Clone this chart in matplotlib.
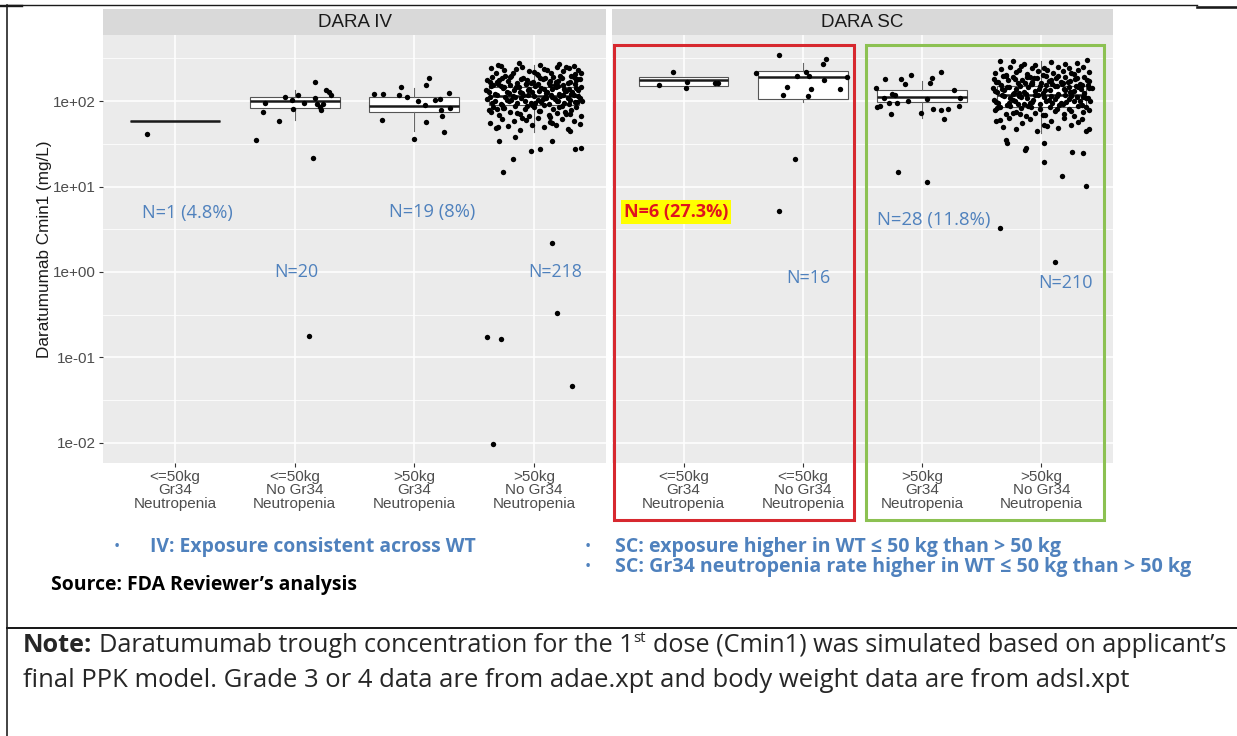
import matplotlib
matplotlib.use("Agg")
import matplotlib.pyplot as plt
from matplotlib.lines import Line2D
from matplotlib.patches import Rectangle
from matplotlib.ticker import FixedLocator, NullFormatter

W, H = 1237, 736

# ---------------- data ----------------
panels = ["DARA IV", "DARA SC"]
groups = ["<=50kg\nGr34\nNeutropenia", "<=50kg\nNo Gr34\nNeutropenia",
          ">50kg\nGr34\nNeutropenia", ">50kg\nNo Gr34\nNeutropenia"]
y_ticks = [1e-2, 1e-1, 1e0, 1e1, 1e2]
y_tick_labels = ["1e-02", "1e-01", "1e+00", "1e+01", "1e+02"]

# box statistics (mg/L) per group
iv_q1 = [58, 82, 74, 90]
iv_med = [58, 101, 87, 114]
iv_q3 = [58, 111, 112, 145]
iv_lo = [58, 60, 45, 43]
iv_hi = [58, 135, 141, 264]

sc_q1 = [150, 105, 97, 86]
sc_med = [175, 192, 110, 118]
sc_q3 = [191, 226, 133, 150]
sc_lo = [150, 98, 63, 42]
sc_hi = [191, 276, 171, 295]

# jittered points: horizontal offset from group centre, value
iv1_dx = [-0.23]
iv1_val = [41]
iv2_dx = [0.17, -0.25, -0.26, -0.13, -0.32, -0.02, -0.01, 0.03, 0.17, 0.21,
          0.22, 0.24, 0.26, 0.29, 0.30, 0.15, 0.12, 0.19, -0.08, 0.08]
iv2_val = [167, 95.5, 74, 59, 34.7, 103, 80.5, 117, 109, 85,
           78.5, 92, 133, 127, 117, 21.5, 0.18, 92, 111, 95]
iv3_dx = [-0.27, -0.34, -0.26, -0.13, -0.11, -0.06, 0.00, 0.03, 0.09, 0.10,
          0.12, 0.10, 0.17, 0.22, 0.23, 0.25, 0.29, 0.30, 0.21]
iv3_val = [60, 120, 120, 118, 144.5, 112, 35.6, 101, 90, 154,
           187, 57, 103, 78.5, 67, 43.4, 123, 82, 105]
iv4_dx = ([-0.13, 0.05, 0.21, -0.30, 0.33]
          + [-0.36, -0.32, -0.25, -0.18, -0.10, -0.04, 0.02, 0.08, 0.14, 0.19,
             0.24, 0.29, 0.34, 0.37, -0.28, -0.15, 0.00, 0.11, 0.27, 0.39]
          + [-0.39, -0.35, -0.31, -0.27, -0.22, -0.19, -0.14, -0.09, -0.06, -0.01,
             0.03, 0.07, 0.12, 0.16, 0.20, 0.23, 0.28, 0.31, 0.35, 0.38,
             -0.37, -0.29, -0.20, -0.11, -0.03, 0.05, 0.13, 0.22, 0.30, 0.36,
             -0.24, -0.07, 0.09, 0.18, 0.33]
          + [-0.40, -0.36, -0.33, -0.30, -0.26, -0.23, -0.20, -0.17, -0.13, -0.10,
             -0.07, -0.04, -0.02, 0.01, 0.04, 0.06, 0.10, 0.13, 0.15, 0.18,
             0.21, 0.24, 0.26, 0.29, 0.32, 0.34, 0.37, 0.39, -0.38, -0.28,
             -0.21, -0.15, -0.05, 0.03, 0.11, 0.20, 0.27, 0.35, -0.34, -0.12,
             0.08, 0.17, 0.31, -0.25, 0.25]
          + [-0.39, -0.35, -0.31, -0.28, -0.24, -0.21, -0.18, -0.14, -0.11, -0.08,
             -0.05, -0.02, 0.00, 0.03, 0.06, 0.09, 0.12, 0.14, 0.17, 0.20,
             0.22, 0.25, 0.28, 0.30, 0.33, 0.36, 0.38, -0.37, -0.27, -0.19,
             -0.09, 0.01, 0.10, 0.19, 0.29, 0.37, -0.33, -0.16, -0.03, 0.07,
             0.24, 0.34, -0.23, 0.15, 0.40]
          + [-0.38, -0.34, -0.29, -0.25, -0.20, -0.16, -0.12, -0.08, -0.04, 0.00,
             0.04, 0.08, 0.12, 0.16, 0.19, 0.23, 0.27, 0.31, 0.35, 0.39,
             -0.36, -0.26, -0.14, -0.06, 0.05, 0.13, 0.21, 0.30, -0.31, 0.26]
          + [-0.37, -0.32, -0.27, -0.22, -0.17, -0.12, -0.07, -0.02, 0.03, 0.08,
             0.13, 0.18, 0.23, 0.28, 0.33, 0.38, -0.30, -0.10, 0.15, 0.30]
          + [0.15, -0.26, -0.18, -0.29, -0.16, -0.03, 0.05, 0.15, 0.34, 0.39,
             -0.39, -0.28, -0.34, 0.19, 0.32])
iv4_val = ([281, 265, 270, 262, 258]
           + [245, 215, 232, 210, 250, 225, 205, 238, 212, 248,
              222, 240, 206, 230, 255, 236, 218, 228, 252, 214]
           + [178, 192, 165, 185, 170, 196, 162, 188, 175, 168,
              199, 182, 164, 190, 172, 186, 161, 195, 176, 183,
              168, 174, 190, 180, 163, 187, 171, 194, 166, 179,
              198, 160, 184, 169, 191]
           + [135, 148, 122, 156, 141, 128, 152, 133, 145, 124,
              158, 138, 127, 150, 131, 143, 125, 155, 137, 147,
              121, 153, 130, 140, 126, 157, 134, 146, 129, 151,
              123, 144, 136, 159, 128, 149, 132, 142, 155, 126,
              139, 152, 121, 147, 137]
           + [105, 96, 117, 92, 110, 101, 115, 94, 108, 99,
              119, 91, 113, 103, 97, 111, 93, 118, 106, 100,
              114, 95, 109, 102, 116, 98, 107, 112, 90, 104,
              117, 96, 108, 101, 93, 115, 99, 110, 94, 106,
              118, 97, 103, 112, 100]
           + [78, 86, 69, 82, 74, 88, 71, 80, 66, 84,
              76, 89, 68, 81, 73, 87, 70, 79, 85, 67,
              75, 83, 72, 88, 77, 65, 84, 71, 80, 74]
           + [55, 48, 62, 51, 58, 46, 60, 53, 64, 49,
              57, 52, 61, 47, 59, 54, 50, 63, 56, 45]
           + [2.17, 14.7, 20.8, 33.8, 37.6, 26.2, 27.7, 33.8, 27.7, 28.4,
              0.172, 0.166, 0.0097, 0.329, 0.0465])

sc1_dx = [-0.09, -0.21, 0.03, 0.02, 0.26, 0.29]
sc1_val = [218, 155, 167, 141, 164, 164]
sc2_dx = [-0.20, 0.19, 0.17, -0.39, 0.03, 0.05, 0.37, -0.13, 0.07, -0.17,
          0.04, -0.07, -0.20, 0.18, -0.05, 0.31]
sc2_val = [345, 310, 268, 214, 220, 198, 189, 144.5, 138, 117.5,
           113.5, 21, 5.2, 176, 196, 140]
sc3_dx = [-0.31, -0.18, -0.09, -0.14, 0.16, 0.08, 0.07, -0.39, 0.27, -0.25,
          -0.32, -0.12, 0.04, -0.21, -0.38, -0.35, -0.28, 0.31, 0.09, 0.16,
          0.22, -0.01, -0.26, 0.18, -0.20, 0.04, -0.23, 0.32]
sc3_val = [179, 182, 203, 158, 220, 187, 162, 143, 134.5, 120,
           107.5, 100, 105, 95.5, 85.8, 87.4, 94, 88, 80, 79,
           81, 71.8, 71, 62, 14.8, 11.3, 117.5, 108]
sc4_dx = ([-0.35, -0.24, -0.15, -0.05, 0.08, 0.20, 0.30, 0.38]
          + [-0.39, -0.34, -0.30, -0.26, -0.21, -0.17, -0.12, -0.08, -0.03, 0.01,
             0.05, 0.10, 0.14, 0.18, 0.23, 0.27, 0.31, 0.35, 0.40, -0.19,
             0.02, 0.25]
          + [-0.40, -0.36, -0.32, -0.28, -0.24, -0.20, -0.16, -0.12, -0.08, -0.04,
             0.00, 0.04, 0.08, 0.12, 0.16, 0.20, 0.24, 0.28, 0.32, 0.36,
             0.40, -0.38, -0.30, -0.22, -0.14, -0.06, 0.06, 0.14, 0.22, 0.30,
             0.38, -0.10, 0.18]
          + [-0.41, -0.37, -0.34, -0.31, -0.27, -0.24, -0.21, -0.18, -0.15, -0.11,
             -0.08, -0.05, -0.02, 0.01, 0.04, 0.07, 0.11, 0.14, 0.17, 0.20,
             0.23, 0.26, 0.29, 0.33, 0.36, 0.39, 0.42, -0.39, -0.29, -0.19,
             -0.09, 0.03, 0.13, 0.24, 0.34, -0.33, -0.13, 0.09, 0.27, 0.40,
             -0.23, -0.01, 0.19, 0.31]
          + [-0.40, -0.36, -0.33, -0.29, -0.26, -0.22, -0.19, -0.15, -0.12, -0.08,
             -0.05, -0.01, 0.02, 0.06, 0.09, 0.13, 0.16, 0.20, 0.23, 0.27,
             0.30, 0.34, 0.37, 0.41, -0.38, -0.31, -0.24, -0.17, -0.10, -0.03,
             0.04, 0.11, 0.18, 0.25, 0.32, 0.39, -0.27, -0.07, 0.08, 0.21,
             0.35, -0.20]
          + [-0.39, -0.35, -0.30, -0.26, -0.21, -0.17, -0.13, -0.09, -0.05, -0.01,
             0.03, 0.07, 0.11, 0.15, 0.19, 0.23, 0.27, 0.31, 0.35, 0.40,
             -0.37, -0.24, -0.11, 0.01, 0.13, 0.25, 0.37, -0.18]
          + [-0.38, -0.32, -0.27, -0.21, -0.16, -0.10, -0.04, 0.02, 0.08, 0.14,
             0.19, 0.25, 0.31, 0.37, -0.35, 0.05, 0.34]
          + [-0.30, -0.29, -0.14, -0.13, 0.02, 0.02, 0.17, 0.26, 0.35, 0.37,
             0.40, 0.11, -0.35])
sc4_val = ([290, 296, 272, 265, 284, 268, 279, 300]
           + [212, 236, 204, 248, 219, 257, 208, 241, 226, 203,
              233, 215, 250, 222, 244, 207, 230, 253, 217, 228,
              246, 211]
           + [183, 167, 196, 174, 189, 161, 178, 192, 169, 185,
              163, 198, 176, 187, 165, 193, 171, 181, 160, 190,
              172, 166, 195, 179, 162, 188, 173, 197, 168, 184,
              177, 191, 164]
           + [142, 128, 155, 133, 147, 121, 138, 151, 126, 144,
              159, 131, 140, 124, 153, 136, 148, 122, 157, 134,
              145, 129, 150, 137, 125, 154, 141, 130, 146, 123,
              158, 135, 149, 127, 152, 139, 120, 156, 132, 143,
              125, 151, 137, 146]
           + [104, 95, 116, 91, 109, 100, 113, 93, 107, 98,
              118, 92, 111, 102, 96, 114, 94, 119, 105, 99,
              112, 90, 108, 101, 97, 115, 103, 110, 94, 117,
              99, 106, 92, 113, 100, 108, 96, 103, 115, 98,
              110, 93]
           + [79, 85, 70, 88, 75, 82, 67, 86, 73, 80,
              69, 84, 77, 89, 71, 81, 66, 87, 74, 78,
              83, 72, 88, 68, 80, 76, 85, 70]
           + [58, 50, 63, 47, 55, 61, 44, 52, 59, 48,
              64, 53, 57, 45, 60, 51, 62]
           + [35, 32, 26.7, 28.4, 19.5, 32, 13.4, 25, 24.8, 10.1,
              46.7, 1.32, 3.3])

iv_points = [(iv1_dx, iv1_val), (iv2_dx, iv2_val), (iv3_dx, iv3_val), (iv4_dx, iv4_val)]
sc_points = [(sc1_dx, sc1_val), (sc2_dx, sc2_val), (sc3_dx, sc3_val), (sc4_dx, sc4_val)]
iv_box = [iv_q1, iv_med, iv_q3, iv_lo, iv_hi]
sc_box = [sc_q1, sc_med, sc_q3, sc_lo, sc_hi]

# annotation text: (label, left px, centre y px, width px)
iv_notes = [("N=1 (4.8%)", 142, 213, 91), ("N=20", 274, 272, 44),
            ("N=19 (8%)", 389, 212, 87), ("N=218", 528, 272, 54)]
sc_notes = [("N=16", 786, 278, 44), ("N=28 (11.8%)", 877, 220, 114),
            ("N=210", 1038, 283, 55)]

# ---------------- drawing ----------------
NARROW = ["Liberation Sans Narrow", "Open Sans", "DejaVu Sans"]
BLUE = "#4F81BD"
plt.rcParams.update({"font.family": ["Liberation Sans", "DejaVu Sans"]})

fig = plt.figure(figsize=(W / 100, H / 100), dpi=100)
fig.patch.set_facecolor("white")
renderer = fig.canvas.get_renderer()


def rect(x0, y0, x1, y1):
    return [x0 / W, 1 - y1 / H, (x1 - x0) / W, (y1 - y0) / H]


def fpos(x, y):
    return x / W, 1 - y / H


def fit(x, y, s, width, size, **kw):
    t = fig.text(*fpos(x, y), s, fontsize=size, va="center", **kw)
    w = t.get_window_extent(renderer).width
    t.set_fontsize(size * width / w)
    return t


def draw_panel(box, title, points, ax_rect, strip_rect, show_y):
    ax = fig.add_axes(rect(*ax_rect))
    ax.set_facecolor("#EBEBEB")
    for sp in ax.spines.values():
        sp.set_visible(False)
    ax.set_yscale("log")
    ax.set_ylim(10 ** -2.234, 10 ** 2.772)
    ax.set_xlim(0.4, 4.6)
    ax.yaxis.set_major_locator(FixedLocator(y_ticks))
    ax.yaxis.set_minor_locator(FixedLocator([10 ** (k + 0.5) for k in range(-3, 3)]))
    ax.yaxis.set_minor_formatter(NullFormatter())
    ax.set_xticks(range(1, 5))
    ax.set_xticklabels(groups, linespacing=0.95)
    ax.grid(True, which="major", color="white", linewidth=1.1)
    ax.grid(True, which="minor", axis="y", color="white", linewidth=0.55)
    ax.set_axisbelow(True)
    ax.tick_params(which="minor", length=0)
    ax.tick_params(which="major", length=3, width=0.8, color="#333333",
                   labelsize=11, labelcolor="#4D4D4D", pad=2)
    if show_y:
        ax.set_yticklabels(y_tick_labels)
    else:
        ax.tick_params(axis="y", left=False, labelleft=False)

    q1, med, q3, lo, hi = box
    stats = [dict(q1=q1[i], med=med[i], q3=q3[i], whislo=lo[i], whishi=hi[i], fliers=[])
             for i in range(4)]
    ax.bxp(stats, positions=[1, 2, 3, 4], widths=0.75, patch_artist=True,
           showfliers=False, showcaps=False, manage_ticks=False,
           boxprops=dict(facecolor="white", edgecolor="#555555", linewidth=0.8),
           medianprops=dict(color="#1A1A1A", linewidth=1.8),
           whiskerprops=dict(color="#666666", linewidth=0.8), zorder=2)
    for i, (dx, val) in enumerate(points):
        ax.scatter([i + 1 + d for d in dx], val, s=15, color="black",
                   linewidths=0, zorder=3)

    st = fig.add_axes(rect(*strip_rect))
    st.set_facecolor("#D9D9D9")
    st.set_xticks([])
    st.set_yticks([])
    for sp in st.spines.values():
        sp.set_visible(False)
    st.text(0.5, 0.48, title, ha="center", va="center", fontsize=13.5, color="#1A1A1A",
            transform=st.transAxes)
    return ax


draw_panel(iv_box, panels[0], iv_points, (103, 35, 606, 463), (103, 9, 606, 35), True)
draw_panel(sc_box, panels[1], sc_points, (612, 35, 1113, 463), (612, 9, 1113, 35), False)

fig.text(*fpos(45, 249), "Daratumumab Cmin1 (mg/L)", rotation=90, ha="center",
         va="center", fontsize=12.3, color="#1A1A1A")

for label, x, y, w in iv_notes + sc_notes:
    fit(x, y, label, w, 16, color=BLUE, family=NARROW)
fit(624, 212, "N=6 (27.3%)", 104, 16, color="#E0141E", family=NARROW,
    fontweight="bold", bbox=dict(facecolor="#FFFF00", edgecolor="none", pad=2.5))

# highlight frames
fig.patches.append(Rectangle(fpos(614, 520), 240 / W, 475 / H, transform=fig.transFigure,
                             fill=False, edgecolor="#D7282F", linewidth=2.2))
fig.patches.append(Rectangle(fpos(866, 520), 238 / W, 475 / H, transform=fig.transFigure,
                             fill=False, edgecolor="#8CC152", linewidth=2.2))

# bullet points and source
for bx, by in [(117, 547), (588, 547), (588, 567)]:
    fig.text(*fpos(bx, by), "\u2022", color=BLUE, fontsize=12, ha="center",
             va="center", family=NARROW)
fit(150, 547, "IV: Exposure consistent across WT", 327, 15, color=BLUE,
    family=NARROW, fontweight="bold")
fit(615, 547, "SC: exposure higher in WT \u2264 50 kg than > 50 kg", 446, 15,
    color=BLUE, family=NARROW, fontweight="bold")
fit(615, 567, "SC: Gr34 neutropenia rate higher in WT \u2264 50 kg than > 50 kg", 576, 15,
    color=BLUE, family=NARROW, fontweight="bold")
fit(51, 585, "Source: FDA Reviewer\u2019s analysis", 308, 14, color="black",
    family=NARROW, fontweight="bold")


# note lines (runs of text so that the superscript fits in)
def text_runs(x, y, parts, size, width):
    arts = []

    def lay(sz):
        for a in arts:
            a.remove()
        arts.clear()
        a = fig.text(0, 0, "x x", fontsize=sz, family=NARROW)
        b = fig.text(0, 0, "xx", fontsize=sz, family=NARROW)
        gap = a.get_window_extent(renderer).width - b.get_window_extent(renderer).width
        a.remove()
        b.remove()
        cx = x
        for s, wt, k, rise, sp in parts:
            t = fig.text(*fpos(cx, y - rise * sz), s, fontsize=sz * k, fontweight=wt,
                         family=NARROW, color="#262626", va="baseline")
            arts.append(t)
            cx += t.get_window_extent(renderer).width + (gap if sp else 0)
        return cx - x

    used = lay(size)
    lay(size * width / used)


text_runs(23, 652, [("Note:", "bold", 1, 0, True),
                    ("Daratumumab trough concentration for the 1", "normal", 1, 0, False),
                    ("st", "normal", 0.6, 0.55, True),
                    ("dose (Cmin1) was simulated based on applicant\u2019s", "normal", 1, 0, False)],
          15, 1209)
text_runs(23, 687, [("final PPK model. Grade 3 or 4 data are from adae.xpt and body weight "
                     "data are from adsl.xpt", "normal", 1, 0, False)], 15, 1105)

# table borders
for xs, ys, lw in [((7.5, 7.5), (5, 736), 1.6), ((7.5, 1197), (5, 5), 1.4),
                   ((1197, 1237), (6.5, 6.5), 2.6), ((0, 22), (5.5, 5.5), 2.4),
                   ((7.5, 1237), (627.5, 627.5), 2.0)]:
    fig.add_artist(Line2D([x / W for x in xs], [1 - y / H for y in ys],
                          color="#1A1A1A", linewidth=lw * 0.72))

fig.savefig("out.png", dpi=100)
